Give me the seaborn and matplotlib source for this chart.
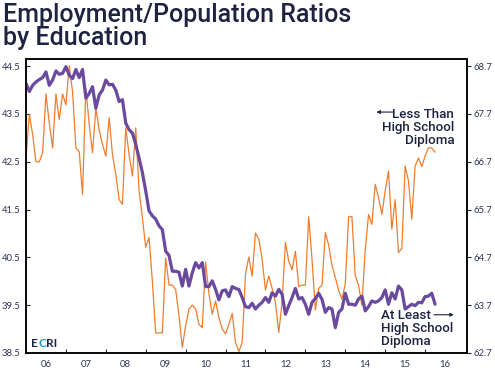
import numpy as np
import pandas as pd
import matplotlib
matplotlib.use('Agg')
import matplotlib.pyplot as plt
from matplotlib.ticker import FixedLocator, NullFormatter, FixedFormatter
import seaborn as sns

# ── Data (monthly, Jan 2006 - Apr 2016) ──────────────────────────────────
START = '2006-01-01'

# less than high school diploma, left axis (%)
less_hs = [
    42.58, 43.49, 43.07, 42.50, 42.50, 42.69, 43.92, 43.31, 42.79, 43.92, 43.38, 43.92,
    43.69, 44.51, 43.97, 42.79, 42.71, 41.82, 44.04, 43.28, 42.69, 43.62, 43.17, 42.86,
    42.62, 43.42, 42.65, 42.24, 41.71, 41.61, 43.21, 42.65, 42.20, 43.21, 41.89, 41.33,
    40.71, 40.92, 40.00, 38.92, 38.92, 38.92, 40.49, 39.92, 39.92, 39.83, 39.28, 38.62,
    39.07, 39.42, 39.50, 39.42, 39.10, 39.03, 40.40, 39.75, 39.31, 39.59, 39.24, 39.00,
    38.90, 39.10, 39.33, 38.72, 38.53, 38.72, 40.15, 40.51, 40.11, 41.01, 40.88, 40.46,
    39.82, 40.11, 39.85, 39.56, 38.93, 39.56, 40.81, 40.42, 40.24, 40.63, 39.89, 39.92,
    39.92, 41.35, 40.46, 39.40, 39.85, 39.92, 41.02, 40.76, 40.33, 40.08, 39.81, 39.63,
    39.94, 41.35, 41.35, 40.12, 39.91, 39.50, 40.65, 41.40, 41.19, 42.03, 41.75, 41.40,
    41.89, 42.31, 41.09, 41.71, 40.60, 40.69, 42.41, 42.10, 41.30, 42.41, 42.58, 42.40,
    42.62, 42.79, 42.79, 42.70,
]

# at least high school diploma, right axis (%)
hs_plus = [
    68.34, 68.17, 68.30, 68.37, 68.42, 68.46, 68.58, 68.30, 68.41, 68.60, 68.53, 68.55,
    68.69, 68.51, 68.44, 68.63, 68.46, 68.63, 68.03, 68.13, 68.27, 67.82, 68.10, 68.20,
    68.41, 68.31, 68.32, 68.20, 67.96, 68.00, 67.51, 67.37, 67.30, 67.06, 66.78, 66.47,
    66.09, 65.67, 65.57, 65.50, 65.36, 65.28, 64.83, 64.74, 64.41, 64.41, 64.39, 64.10,
    64.45, 64.10, 64.38, 64.59, 64.48, 64.59, 64.09, 64.09, 64.21, 64.03, 63.81, 64.00,
    64.02, 63.88, 64.09, 64.05, 64.03, 63.86, 63.67, 63.65, 63.74, 63.62, 63.70, 63.76,
    63.86, 63.76, 63.96, 63.89, 64.03, 63.93, 63.51, 63.69, 63.86, 64.05, 63.83, 63.86,
    63.72, 63.51, 63.76, 63.84, 63.95, 63.82, 63.55, 63.65, 63.62, 63.23, 63.55, 63.62,
    63.95, 63.72, 63.72, 63.70, 63.83, 63.89, 63.58, 63.67, 63.79, 63.76, 63.79, 63.86,
    64.02, 63.72, 63.96, 63.83, 64.10, 64.02, 63.62, 63.67, 63.72, 63.69, 63.76, 63.75,
    63.88, 63.89, 63.95, 63.72,
]

LEFT_TICKS = [38.5, 39.5, 40.5, 41.5, 42.5, 43.5, 44.5]
RIGHT_TICKS = [62.7, 63.7, 64.7, 65.7, 66.7, 67.7, 68.7]
YEARS = list(range(2006, 2017))
YEAR_LABELS = ['06', '07', '08', '09', '10', '11', '12', '13', '14', '15', '16']

ORANGE = '#f07c2c'
PURPLE = '#6a4a9e'
NAVY = '#1d2340'
TICKC = '#2e3550'
BLUE = '#1b8fd8'

dates = pd.date_range(START, periods=len(less_hs), freq='MS')
t = dates.year + (dates.month - 1) / 12.0
df = pd.DataFrame({'t': t, 'less_hs': less_hs, 'hs_plus': hs_plus})

# ── Plot ──────────────────────────────────────────────────────────────────
sns.set_style('ticks')
plt.rcParams['font.family'] = ['Lato', 'DejaVu Sans']
HEAD = ['Roboto', 'Lato', 'DejaVu Sans']

W, H = 495, 375
fig = plt.figure(figsize=(W / 100, H / 100), dpi=100)
fig.patch.set_facecolor('white')
ax = fig.add_axes([26 / W, 1 - 353 / H, (467 - 26) / W, (353 - 59) / H])
ax2 = ax.twinx()

sns.lineplot(data=df, x='t', y='less_hs', ax=ax, color=ORANGE, linewidth=0.9)
sns.lineplot(data=df, x='t', y='hs_plus', ax=ax2, color=PURPLE, linewidth=2.3)

ax.set_xlim(2006.0, 2017.05)
ax.set_ylim(38.5, 44.65)
ax2.set_ylim(62.7, 68.85)

ax.set_xlabel('')
ax.set_ylabel('')
ax2.set_ylabel('')

for a in (ax, ax2):
    for s in a.spines.values():
        s.set_visible(True)
        s.set_linewidth(1.1)
        s.set_color('black')

ax.set_yticks(LEFT_TICKS)
ax.set_yticklabels([f'{v:.1f}' for v in LEFT_TICKS])
ax.tick_params(axis='y', direction='in', length=3, width=0.8, pad=4,
               labelsize=6.8, labelcolor=TICKC)
ax2.set_yticks(RIGHT_TICKS)
ax2.set_yticklabels([f'{v:.1f}' for v in RIGHT_TICKS])
ax2.tick_params(axis='y', direction='out', length=3, width=0.8, pad=2,
                labelsize=6.8, labelcolor=TICKC)

# year boundaries get tick marks, labels sit mid-year
ax.xaxis.set_major_locator(FixedLocator(YEARS[1:]))
ax.xaxis.set_major_formatter(NullFormatter())
ax.xaxis.set_minor_locator(FixedLocator([y + 0.5 for y in YEARS]))
ax.xaxis.set_minor_formatter(FixedFormatter(YEAR_LABELS))
ax.tick_params(axis='x', which='major', direction='in', length=3, width=0.8)
ax.tick_params(axis='x', which='minor', length=0, pad=5, labelsize=6.8, labelcolor=TICKC)

# ── Text ──────────────────────────────────────────────────────────────────
fig.text(3 / W, 1 - 3 / H, 'Employment/Population Ratios\nby Education',
         ha='left', va='top', fontsize=18, color=NAVY, fontweight='medium',
         family=HEAD, linespacing=0.95)

ax.text(2016.73, 43.63, 'Less Than\nHigh School\nDiploma', ha='right', va='top',
        fontsize=9.6, color=NAVY, fontweight='medium', family=HEAD, linespacing=1.0)
ax.annotate('', xy=(2014.78, 43.54), xytext=(2015.2, 43.54),
            arrowprops=dict(arrowstyle='-|>', color=NAVY, lw=0.8,
                            mutation_scale=5, shrinkA=0, shrinkB=0))

ax.text(2014.9, 39.41, 'At Least\nHigh School\nDiploma', ha='left', va='top',
        fontsize=9.6, color=NAVY, fontweight='medium', family=HEAD, linespacing=1.0)
ax.annotate('', xy=(2016.72, 39.3), xytext=(2016.22, 39.3),
            arrowprops=dict(arrowstyle='-|>', color=NAVY, lw=0.8,
                            mutation_scale=5, shrinkA=0, shrinkB=0))

ax.text(2006.12, 38.63, 'E', ha='left', va='baseline', fontsize=8.5,
        fontweight='bold', color=NAVY)
ax.text(2006.31, 38.63, 'C', ha='left', va='baseline', fontsize=8.5,
        fontweight='bold', color=BLUE)
ax.text(2006.5, 38.63, 'RI', ha='left', va='baseline', fontsize=8.5,
        fontweight='bold', color=NAVY)

fig.savefig('out.png', dpi=100, facecolor='white')
